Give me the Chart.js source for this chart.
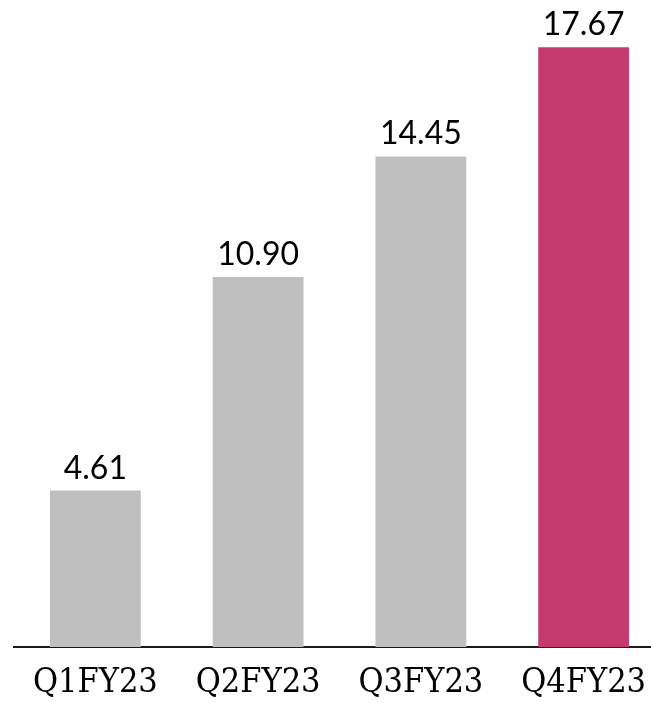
<!DOCTYPE html>
<html>
<head>
<meta charset="utf-8">
<script src="https://cdn.jsdelivr.net/npm/chart.js@4"></script>
<style>
  html, body { margin: 0; padding: 0; background: #fff; overflow: hidden; }
  #wrap { width: 665px; height: 703px; }
</style>
</head>
<body>
<div id="wrap"><canvas id="myChart"></canvas></div>
<script>
const quarters = ['Q1FY23', 'Q2FY23', 'Q3FY23', 'Q4FY23'];
const values = [4.61, 10.90, 14.45, 17.67];
const barColors = ['#BFBFBF', '#BFBFBF', '#BFBFBF', '#C43A70'];

// value labels above each bar
const valueLabels = {
    id: 'valueLabels',
    afterDatasetsDraw(chart) {
        const ctx = chart.ctx;
        const meta = chart.getDatasetMeta(0);
        ctx.save();
        ctx.font = '32px Lato, "Open Sans", sans-serif';
        ctx.fillStyle = '#000';
        ctx.textAlign = 'center';
        ctx.textBaseline = 'alphabetic';
        meta.data.forEach((bar, i) => {
            ctx.fillText(values[i].toFixed(2), bar.x, bar.y - 12);
        });
        ctx.restore();
    }
};

let ctx = document.querySelector('#myChart').getContext('2d');
let myChart = new Chart(ctx, {
    type: 'bar',
    data: {
        labels: quarters,
        datasets: [{
            data: values,
            backgroundColor: barColors,
            borderWidth: 0,
            barPercentage: 1,
            categoryPercentage: 0.558
        }]
    },
    options: {
        responsive: true,
        maintainAspectRatio: false,
        animation: false,
        layout: {
            padding: { left: 14, right: 0, top: 19, bottom: 0 }
        },
        plugins: {
            legend: { display: false },
            tooltip: { enabled: false }
        },
        scales: {
            x: {
                afterFit: (scale) => { scale.height = 56; },
                grid: { display: false, drawTicks: false },
                border: { display: true, color: '#1a1a1a', width: 2 },
                ticks: {
                    color: '#000',
                    padding: 17,
                    font: { family: '"DejaVu Serif Condensed", "Liberation Serif", serif', size: 34, lineHeight: 1.1 }
                }
            },
            y: {
                display: false,
                min: 0,
                max: 18.5
            }
        }
    },
    plugins: [valueLabels]
});
</script>
</body>
</html>
